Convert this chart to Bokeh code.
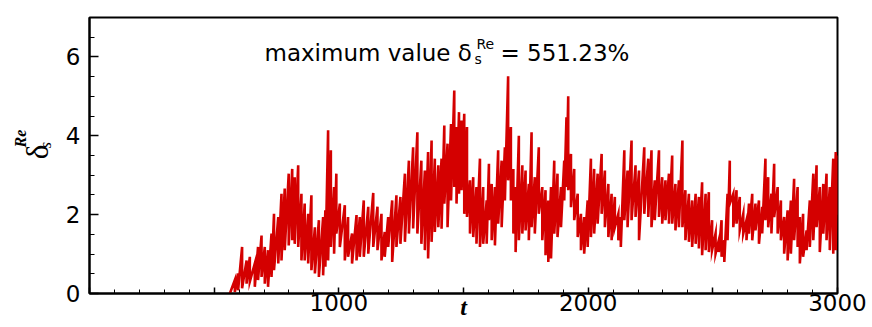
import math
from bokeh.plotting import figure
from bokeh.layouts import row
from bokeh.models import Range1d, FixedTicker, Label
from bokeh.embed import file_html
from bokeh.resources import INLINE

# ---- data: at each time t, local peak and trough of delta_s^Re ----
t_read = [563, 583, 596, 612, 630, 643, 663, 676, 690, 703,
          716, 730, 740, 757, 770, 783, 799, 813, 823, 837,
          850, 863, 877, 890, 904, 920, 937, 946, 957, 968,
          981, 990, 1004, 1024, 1037, 1053, 1071, 1084, 1100, 1118,
          1138, 1155, 1171, 1184, 1198, 1214, 1231, 1247, 1265, 1281,
          1298, 1315, 1331, 1345, 1358, 1372, 1385, 1399, 1412, 1423,
          1436, 1450, 1463, 1472, 1482, 1492, 1503, 1514, 1526, 1539,
          1552, 1566, 1579, 1593, 1602, 1613, 1626, 1639, 1653, 1666,
          1679, 1690, 1700, 1709, 1722, 1736, 1749, 1762, 1773, 1786,
          1802, 1816, 1829, 1840, 1851, 1864, 1877, 1891, 1904, 1913,
          1920, 1931, 1944, 1958, 1971, 1984, 1998, 2011, 2024, 2038,
          2054, 2067, 2081, 2094, 2107, 2121, 2131, 2145, 2158, 2174,
          2190, 2204, 2225, 2241, 2254, 2267, 2284, 2297, 2310, 2324,
          2337, 2350, 2364, 2378, 2390, 2404, 2417, 2431, 2444, 2457,
          2471, 2484, 2497, 2511, 2524, 2535, 2546, 2559, 2568, 2582,
          2595, 2608, 2622, 2635, 2645, 2658, 2671, 2685, 2698, 2711,
          2722, 2735, 2746, 2760, 2773, 2786, 2800, 2813, 2826, 2840,
          2849, 2862, 2876, 2889, 2903, 2916, 2929, 2943, 2956, 2969,
          2983, 2993, 3000]

delta_high = [0.00, 0.34, 0.51, 1.18, 0.84, 0.93, 0.76, 1.18, 1.47, 1.18,
              1.10, 1.52, 2.02, 1.94, 2.53, 2.66, 3.04, 3.16, 2.95, 3.25,
              2.53, 2.28, 2.02, 2.49, 1.68, 1.86, 1.94, 2.11, 4.14, 3.63,
              2.70, 3.04, 2.28, 2.24, 1.94, 1.52, 1.99, 1.94, 2.36, 2.20,
              2.55, 2.20, 2.02, 1.56, 1.94, 2.36, 2.49, 2.45, 3.04, 3.37,
              3.71, 4.09, 3.37, 3.12, 3.59, 3.88, 3.42, 3.25, 3.42, 4.26,
              3.80, 4.30, 5.15, 4.22, 4.60, 4.39, 4.56, 4.22, 2.87, 2.95,
              2.70, 3.42, 2.70, 2.36, 3.29, 2.78, 2.70, 3.63, 3.37, 3.71,
              5.51, 4.22, 3.16, 2.70, 4.00, 3.25, 3.12, 2.78, 4.09, 2.95,
              3.71, 2.70, 2.62, 2.36, 2.70, 3.37, 3.04, 2.70, 3.37, 4.47,
              5.00, 3.54, 3.16, 2.53, 2.02, 1.94, 2.36, 3.42, 3.16, 3.04,
              3.54, 3.12, 2.78, 2.53, 2.45, 2.02, 1.94, 3.63, 3.12, 3.88,
              3.25, 3.12, 3.71, 3.42, 3.63, 2.87, 3.63, 2.95, 2.87, 3.04,
              3.50, 2.78, 2.87, 3.88, 2.62, 2.53, 2.36, 2.53, 2.45, 2.82,
              2.53, 2.57, 1.86, 1.52, 1.35, 1.86, 1.35, 2.53, 3.37, 2.53,
              2.62, 2.45, 2.02, 1.86, 2.28, 2.53, 2.28, 2.36, 2.20, 3.42,
              2.95, 2.53, 3.29, 2.70, 2.36, 1.94, 2.11, 2.36, 2.91, 2.70,
              1.94, 2.02, 1.60, 2.36, 3.04, 3.25, 2.70, 2.78, 3.04, 2.70,
              3.42, 3.59, 3.50]

delta_low = [0.00, 0.04, 0.08, 0.13, 0.25, 0.30, 0.17, 0.34, 0.42, 0.25,
             0.17, 0.42, 0.59, 0.76, 0.84, 1.10, 1.22, 1.35, 1.26, 1.18,
             0.84, 0.84, 0.76, 0.59, 0.51, 0.42, 0.46, 0.68, 0.84, 1.18,
             1.01, 1.52, 1.18, 0.84, 0.93, 0.76, 0.84, 0.93, 0.93, 1.01,
             1.18, 1.10, 0.84, 0.93, 1.18, 0.80, 1.18, 1.26, 1.31, 1.52,
             1.65, 1.52, 1.26, 1.10, 0.89, 1.31, 1.56, 1.68, 1.64, 2.28,
             1.68, 2.36, 2.70, 2.28, 2.53, 2.62, 2.02, 1.94, 1.52, 1.43,
             1.26, 1.18, 1.26, 1.26, 1.86, 1.35, 1.22, 1.77, 1.68, 2.36,
             2.87, 2.36, 1.52, 1.05, 1.35, 1.52, 1.60, 1.35, 1.68, 1.52,
             2.02, 1.35, 0.97, 0.80, 0.89, 1.52, 1.43, 1.68, 2.36, 2.70,
             2.62, 2.19, 1.86, 1.43, 1.10, 1.01, 1.18, 1.43, 1.52, 1.77,
             2.02, 1.68, 1.43, 1.35, 1.68, 1.35, 1.18, 1.86, 1.68, 1.86,
             1.94, 1.35, 2.02, 1.94, 1.68, 1.86, 1.94, 1.77, 1.86, 1.77,
             1.77, 1.60, 1.68, 1.68, 1.35, 1.31, 1.18, 1.26, 1.14, 0.97,
             1.10, 1.05, 1.10, 1.01, 1.05, 0.93, 0.80, 1.35, 2.28, 1.68,
             1.77, 1.60, 1.52, 1.35, 1.52, 1.35, 1.60, 1.26, 1.52, 1.86,
             1.68, 1.52, 1.94, 1.52, 1.35, 1.01, 0.84, 1.01, 1.35, 1.18,
             0.76, 0.93, 1.10, 1.18, 1.35, 1.68, 1.05, 1.52, 1.35, 1.10,
             1.01, 1.10, 2.00]

x_major_ticks = [0, 500, 1000, 1500, 2000, 2500, 3000]
x_minor_ticks = [100, 200, 300, 400, 600, 700, 800, 900, 1100, 1200, 1300, 1400,
                 1600, 1700, 1800, 1900, 2100, 2200, 2300, 2400, 2600, 2700, 2800, 2900]
x_tick_labels = {0: "", 500: "", 1000: "1000", 1500: "", 2000: "2000", 2500: "", 3000: "3000"}
y_major_ticks = [0, 2, 4, 6]
y_minor_ticks = [0.5, 1, 1.5, 2.5, 3, 3.5, 4.5, 5, 5.5, 6.5, 7]
max_text = "= 551.23%"

# build the trace: a vertical stroke from peak to trough at every read time
xs, ys = [], []
for t, hi, lo in zip(t_read, delta_high, delta_low):
    xs += [t, t]
    ys += [hi, lo]

LW = 62                          # width of the strip that holds the y label
FL, FT, FW, FH = 88, 17, 748, 276  # frame in page pixels
TOTAL_H = 327


def dx(px):
    return (px - FL) / FW * 3000


def dy(py):
    return (FT + FH - py) / FH * 7


def sy(py):
    return TOTAL_H - py


# ---------------- y-label strip ----------------
lab = figure(width=LW, height=TOTAL_H, x_range=Range1d(0, LW), y_range=Range1d(0, TOTAL_H),
             output_backend="svg", toolbar_location=None, x_axis_type=None, y_axis_type=None,
             min_border=0)
lab.outline_line_color = None
lab.xgrid.visible = False
lab.ygrid.visible = False
lab.background_fill_color = "white"
lab.border_fill_color = "white"

serif = "Liberation Serif"
lab.add_layout(Label(x=37, y=sy(168), text="δ", text_font=serif, angle=math.pi / 2,
                     text_font_size="31px", text_baseline="alphabetic", text_align="left",
                     text_color="black"))
lab.add_layout(Label(x=45, y=sy(155), text="s", text_font=serif, angle=math.pi / 2,
                     text_font_size="16px", text_font_style="italic",
                     text_baseline="alphabetic", text_align="left", text_color="black"))
lab.add_layout(Label(x=20, y=sy(154), text="Re", text_font=serif, angle=math.pi / 2,
                     text_font_size="16px", text_font_style="bold italic",
                     text_baseline="alphabetic", text_align="left", text_color="black"))

# ---------------- main plot ----------------
p = figure(frame_width=FW, frame_height=FH, x_range=Range1d(0, 3000), y_range=Range1d(0, 7),
           output_backend="svg", toolbar_location=None,
           min_border_left=FL - LW, min_border_right=36, min_border_top=FT,
           min_border_bottom=TOTAL_H - FT - FH)
p.background_fill_color = "white"
p.border_fill_color = "white"
p.outline_line_color = "black"
p.outline_line_width = 2
p.xgrid.visible = False
p.ygrid.visible = False

p.line(xs, ys, line_color="#d40000", line_width=2.6, line_join="miter")

p.xaxis.ticker = FixedTicker(ticks=x_major_ticks, minor_ticks=x_minor_ticks)
p.xaxis.major_label_overrides = x_tick_labels
p.yaxis.ticker = FixedTicker(ticks=y_major_ticks, minor_ticks=y_minor_ticks)

for ax in (p.xaxis[0], p.yaxis[0]):
    ax.axis_line_width = 2
    ax.axis_line_color = "black"
    ax.major_tick_out = 0
    ax.minor_tick_out = 0
    ax.major_tick_line_width = 1.5
    ax.minor_tick_line_width = 1
    ax.major_tick_line_color = "black"
    ax.minor_tick_line_color = "black"
    ax.major_label_text_font = "DejaVu Sans"
    ax.major_label_text_font_size = "23px"
    ax.major_label_text_color = "black"

p.xaxis.major_tick_in = 6
p.xaxis.minor_tick_in = 4
p.xaxis.major_label_standoff = 0
p.yaxis.major_tick_in = 9
p.yaxis.minor_tick_in = 5
p.yaxis.major_label_standoff = 9

# x axis label t
p.xaxis.axis_label = "t"
p.xaxis.axis_label_text_font = serif
p.xaxis.axis_label_text_font_size = "24px"
p.xaxis.axis_label_text_font_style = "bold italic"
p.xaxis.axis_label_text_color = "black"
p.xaxis.axis_label_standoff = -20

# annotation: maximum value text
sans = "DejaVu Sans"
p.add_layout(Label(x=dx(263), y=dy(52), text="maximum value δ", text_font=sans,
                   text_font_size="23px", text_baseline="alphabetic", text_align="left",
                   text_color="black"))
p.add_layout(Label(x=dx(473), y=dy(58), text="s", text_font=sans,
                   text_font_size="14px", text_baseline="alphabetic", text_align="left",
                   text_color="black"))
p.add_layout(Label(x=dx(475), y=dy(43), text="Re", text_font=sans,
                   text_font_size="14px", text_baseline="alphabetic", text_align="left",
                   text_color="black"))
p.add_layout(Label(x=dx(499), y=dy(52), text=max_text, text_font=sans,
                   text_font_size="23px", text_baseline="alphabetic", text_align="left",
                   text_color="black"))

layout = row(lab, p, spacing=0)
open("out.html", "w").write(file_html(layout, INLINE))
